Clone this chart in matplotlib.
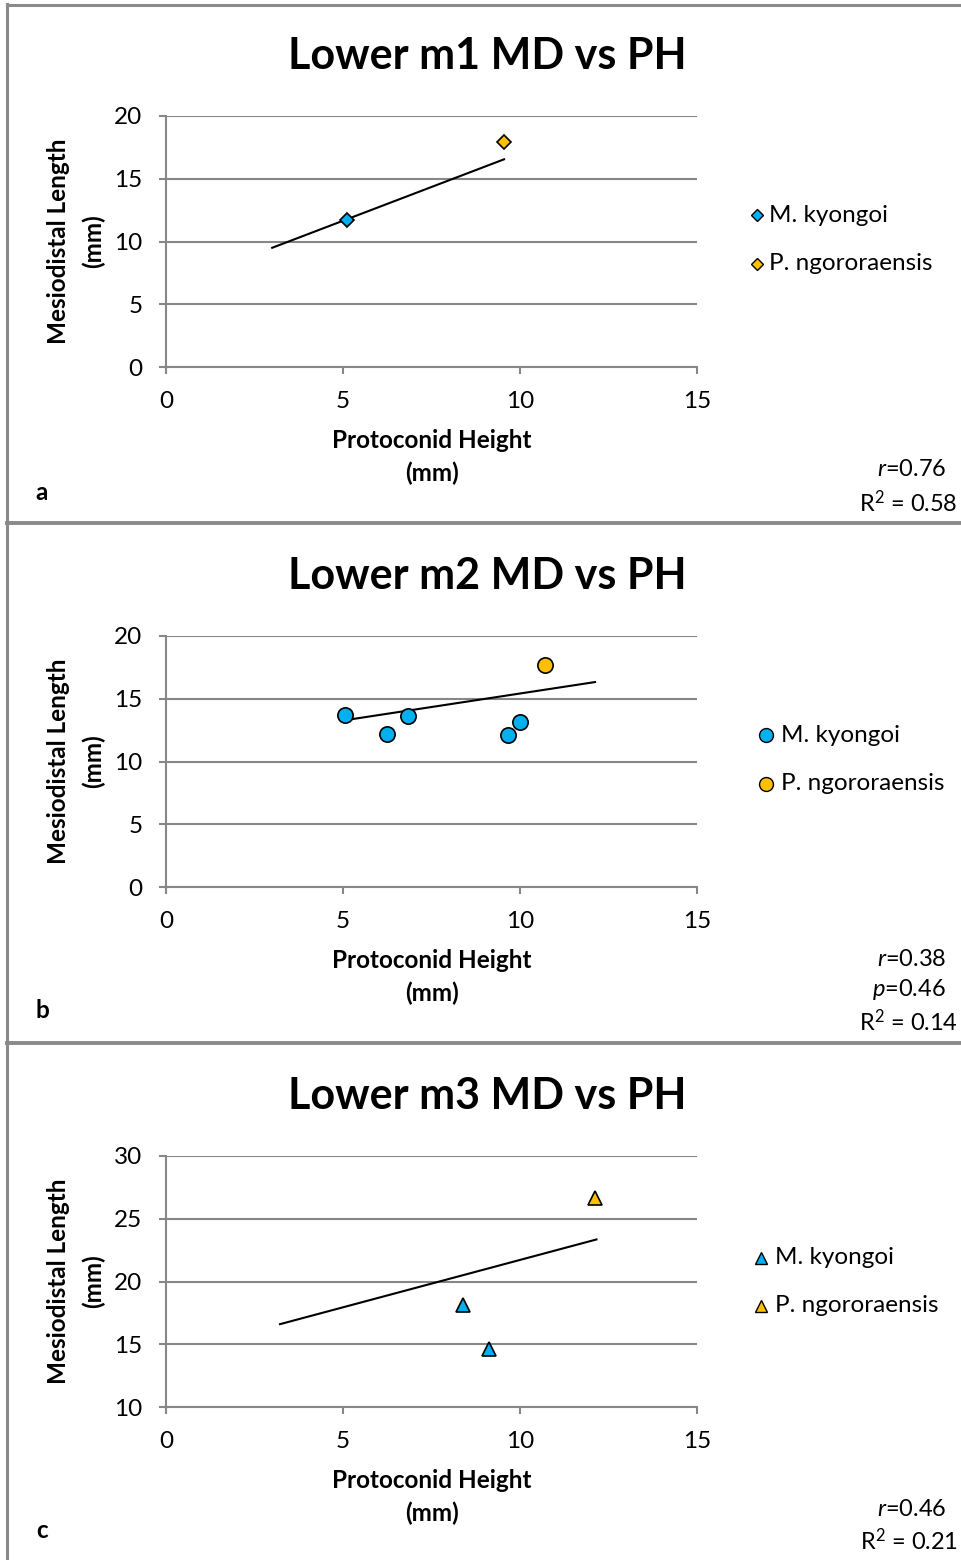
import matplotlib
matplotlib.use("Agg")
import matplotlib.pyplot as plt
from matplotlib.lines import Line2D

# ---- data -------------------------------------------------------------
species = ["M. kyongoi", "P. ngororaensis"]
colors = ["#00B0F0", "#FFC000"]

m1_kyongoi_ph = [5.1]
m1_kyongoi_md = [11.7]
m1_ngoro_ph = [9.55]
m1_ngoro_md = [17.9]
m1_trend_ph = [3.0, 9.55]
m1_trend_md = [9.5, 16.55]

m2_kyongoi_ph = [5.05, 6.25, 6.83, 9.66, 10.01]
m2_kyongoi_md = [13.7, 12.23, 13.64, 12.15, 13.14]
m2_ngoro_ph = [10.71]
m2_ngoro_md = [17.71]
m2_trend_ph = [5.08, 12.12]
m2_trend_md = [13.30, 16.33]

m3_kyongoi_ph = [8.40, 9.12]
m3_kyongoi_md = [18.16, 14.60]
m3_ngoro_ph = [12.13]
m3_ngoro_md = [26.68]
m3_trend_ph = [3.22, 12.16]
m3_trend_md = [16.60, 23.35]

titles = ["Lower m1 MD vs PH", "Lower m2 MD vs PH", "Lower m3 MD vs PH"]
panel_letters = ["a", "b", "c"]
stats = [["$\\it{r}$=0.76", "R$^{2}$ = 0.58"],
         ["$\\it{r}$=0.38", "$\\it{p}$=0.46", "R$^{2}$ = 0.14"],
         ["$\\it{r}$=0.46", "R$^{2}$ = 0.21"]]
x_ticks = [0, 5, 10, 15]
y_ticks = [[0, 5, 10, 15, 20], [0, 5, 10, 15, 20], [10, 15, 20, 25, 30]]
markers = ["D", "o", "^"]

# ---- layout helpers ----------------------------------------------------
W, H = 962, 1560
FONT = ["Lato", "DejaVu Sans"]
plt.rcParams["font.family"] = FONT
plt.rcParams["mathtext.fontset"] = "custom"
plt.rcParams["mathtext.it"] = "Lato:italic"
plt.rcParams["mathtext.rm"] = "Lato"

fig = plt.figure(figsize=(W / 100, H / 100), dpi=100)


def fx(px):
    return px / W


def fy(py):
    return 1 - py / H


GRID = "#878787"
TXT = 17.5
panels = [
    (m1_kyongoi_ph, m1_kyongoi_md, m1_ngoro_ph, m1_ngoro_md, m1_trend_ph, m1_trend_md),
    (m2_kyongoi_ph, m2_kyongoi_md, m2_ngoro_ph, m2_ngoro_md, m2_trend_ph, m2_trend_md),
    (m3_kyongoi_ph, m3_kyongoi_md, m3_ngoro_ph, m3_ngoro_md, m3_trend_ph, m3_trend_md),
]
msizes = [6.8, 11.0, 10.0]
leg_msizes = [6.0, 10.0, 8.5]
leg_xs = [757, 766, 761]
leg_gaps = [12, 15, 14]

for i, (kx, ky, nx, ny, tx, ty) in enumerate(panels):
    off = 520 * i
    left, right, top, bottom = 166, 697, 116 + off, 367 + off
    ax = fig.add_axes([fx(left), fy(bottom), fx(right - left), (bottom - top) / H])
    ax.set_xlim(x_ticks[0], x_ticks[-1])
    ax.set_ylim(y_ticks[i][0], y_ticks[i][-1])
    ax.set_xticks(x_ticks)
    ax.set_yticks(y_ticks[i])
    ax.grid(axis="y", color=GRID, linewidth=1.5, zorder=0)
    ax.set_axisbelow(True)
    for s in ["top", "right"]:
        ax.spines[s].set_visible(False)
    for s in ["left", "bottom"]:
        ax.spines[s].set_color(GRID)
        ax.spines[s].set_linewidth(1.5)
    ax.tick_params(axis="both", direction="out", length=5, width=1.5, color=GRID,
                   labelsize=TXT, labelcolor="black")
    ax.tick_params(axis="x", pad=12)
    ax.tick_params(axis="y", pad=12)

    ax.plot(tx, ty, color="black", linewidth=1.5, zorder=3)
    ax.plot(kx, ky, linestyle="none", marker=markers[i], markersize=msizes[i],
            markerfacecolor=colors[0], markeredgecolor="black", markeredgewidth=1.2,
            zorder=4)
    ax.plot(nx, ny, linestyle="none", marker=markers[i], markersize=msizes[i],
            markerfacecolor=colors[1], markeredgecolor="black", markeredgewidth=1.2,
            zorder=4)

    # titles and axis labels
    fig.text(fx(487), fy(56 + off), titles[i], ha="center", va="center",
             fontsize=31, fontweight="bold")
    fig.text(fx(432), fy(441 + off), "Protoconid Height", ha="center", va="center",
             fontsize=TXT, fontweight="bold")
    fig.text(fx(432), fy(473 + off), "(mm)", ha="center", va="center",
             fontsize=TXT, fontweight="bold")
    fig.text(fx(59), fy(241 + off), "Mesiodistal Length", ha="center", va="center",
             rotation=90, fontsize=TXT, fontweight="bold")
    fig.text(fx(93), fy(241 + off), "(mm)", ha="center", va="center",
             rotation=90, fontsize=TXT, fontweight="bold")

    # legend
    leg_y = [215 + off, 264 + off] if i != 2 else [1258, 1306]
    leg_x = leg_xs[i]
    for k in range(2):
        fig.add_artist(Line2D([fx(leg_x)], [fy(leg_y[k])], marker=markers[i],
                              markersize=leg_msizes[i], markerfacecolor=colors[k],
                              markeredgecolor="black", markeredgewidth=1.0,
                              linestyle="none"))
        fig.text(fx(leg_x + leg_gaps[i]), fy(leg_y[k]), species[k], ha="left",
                 va="center", fontsize=TXT)

# panel letters and statistics
letter_y = [492, 1010, 1530]
for i in range(3):
    fig.text(fx(42), fy(letter_y[i]), panel_letters[i], ha="center", va="center",
             fontsize=TXT, fontweight="bold")

stat_y = [[470, 503], [959, 990, 1022], [1510, 1541]]
for i in range(3):
    for j, s in enumerate(stats[i]):
        xr = 958 if s.startswith("R") else 946
        fig.text(fx(xr), fy(stat_y[i][j]), s, ha="right", va="center", fontsize=17)

# frame lines around and between panels
BORDER = "#8a8a8a"
fig.add_artist(Line2D([fx(7), fx(7)], [fy(4), fy(1560)], color=BORDER, linewidth=2.2))
fig.add_artist(Line2D([fx(7), fx(962)], [fy(4.5), fy(4.5)], color=BORDER, linewidth=2.2))
for yy in [523, 1043]:
    fig.add_artist(Line2D([fx(7), fx(962)], [fy(yy), fy(yy)], color=BORDER, linewidth=2.8))

fig.savefig("out.png", dpi=100)
